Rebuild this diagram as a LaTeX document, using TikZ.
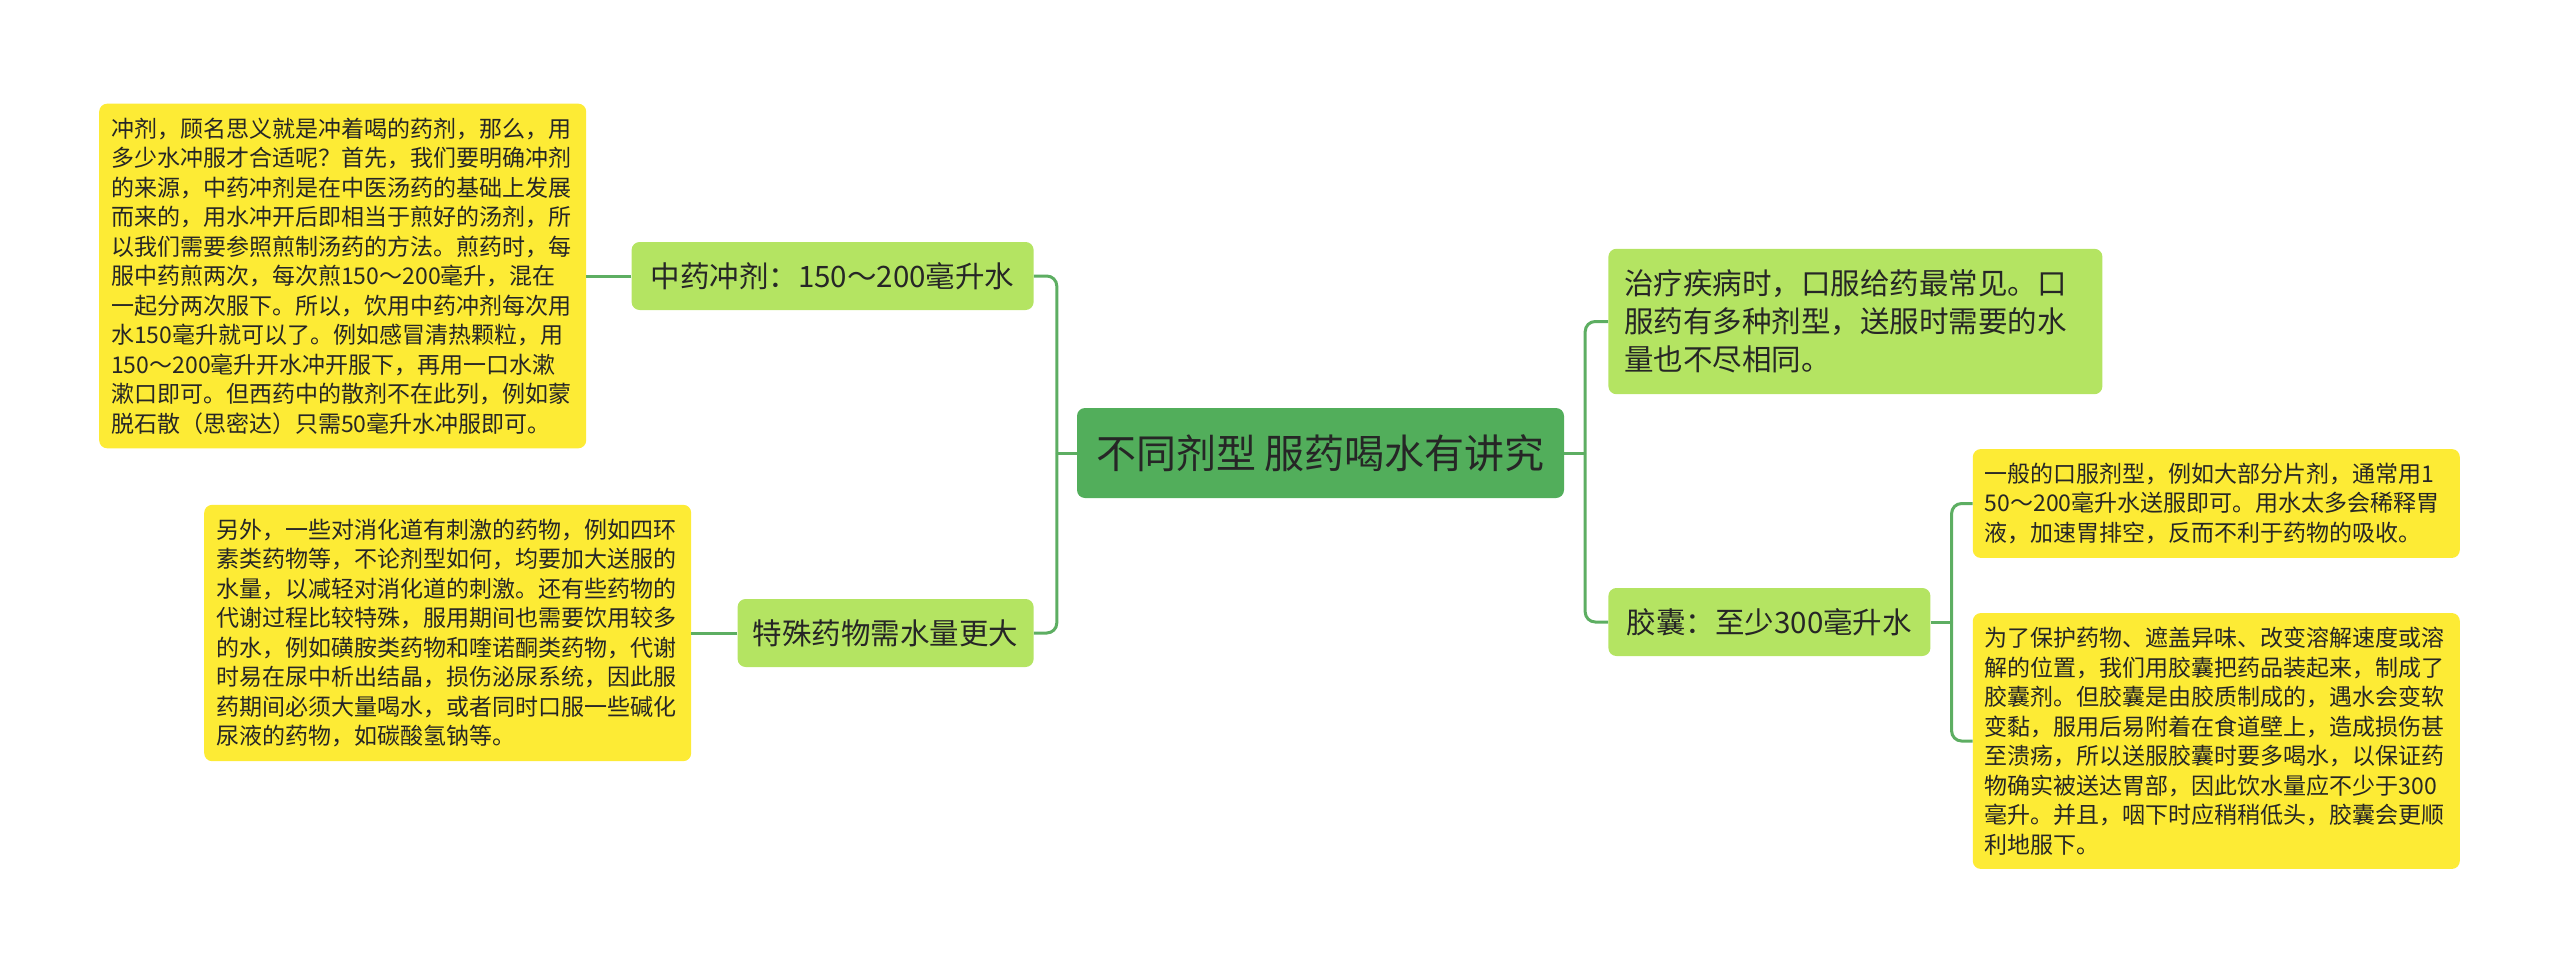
\documentclass[tikz,border=0pt]{standalone}
\usepackage{fontspec}
\setmainfont{Noto Sans CJK SC}
\usepackage{xcolor}
\usetikzlibrary{positioning}
\definecolor{rootgreen}{HTML}{52AE5B}
\definecolor{leafgreen}{HTML}{B4E462}
\definecolor{noteyellow}{HTML}{FDEB35}
\definecolor{linkgreen}{HTML}{5DAE62}

\begin{document}
\begin{tikzpicture}[
    x=1pt, y=1pt,
    root/.style={fill=rootgreen, rounded corners=8pt, minimum width=487pt, minimum height=90pt, font=\fontsize{40}{46}\selectfont, text=black!85},
    branch/.style={fill=leafgreen, rounded corners=8pt, inner xsep=15pt, minimum height=68pt, align=left, font=\fontsize{29.5}{38}\selectfont, text=black!85},
    note/.style={fill=noteyellow, rounded corners=8pt, inner xsep=12pt, inner ysep=14pt, text width=463pt, align=left, font=\fontsize{23}{29.5}\selectfont, text=black!85},
    link/.style={draw=linkgreen, line width=3pt}
  ]
    \useasboundingbox (0,0) rectangle (2560,-972);
    \node[root] (root) at (1320.5,-453) {不同剂型 服药喝水有讲究};
    \node[branch, left=43pt of root, yshift=177pt, minimum width=402pt] (tcm) {中药冲剂：150～200毫升水};
    \node[branch, left=43pt of root, yshift=-180pt, minimum width=296pt] (special) {特殊药物需水量更大};
    \node[note, left=45pt of tcm] (decoct) {冲剂，顾名思义就是冲着喝的药剂，那么，用\\多少水冲服才合适呢？首先，我们要明确冲剂\\的来源，中药冲剂是在中医汤药的基础上发展\\而来的，用水冲开后即相当于煎好的汤剂，所\\以我们需要参照煎制汤药的方法。煎药时，每\\服中药煎两次，每次煎150～200毫升，混在\\一起分两次服下。所以，饮用中药冲剂每次用\\水150毫升就可以了。例如感冒清热颗粒，用\\150～200毫升开水冲开服下，再用一口水漱\\漱口即可。但西药中的散剂不在此列，例如蒙\\脱石散（思密达）只需50毫升水冲服即可。};
    \node[note, left=46pt of special] (irritant) {另外，一些对消化道有刺激的药物，例如四环\\素类药物等，不论剂型如何，均要加大送服的\\水量，以减轻对消化道的刺激。还有些药物的\\代谢过程比较特殊，服用期间也需要饮用较多\\的水，例如磺胺类药物和喹诺酮类药物，代谢\\时易在尿中析出结晶，损伤泌尿系统，因此服\\药期间必须大量喝水，或者同时口服一些碱化\\尿液的药物，如碳酸氢钠等。};
    \node[branch, right=44pt of root, yshift=131.5pt, text width=462pt, inner xsep=16pt, inner ysep=21pt] (oral) {治疗疾病时，口服给药最常见。口\\服药有多种剂型，送服时需要的水\\量也不尽相同。};
    \node[branch, right=44pt of root, yshift=-169pt, minimum width=322pt] (capsule) {胶囊：至少300毫升水};
    \node[note, right=42pt of capsule, yshift=118.5pt] (tablet) {一般的口服剂型，例如大部分片剂，通常用1\\50～200毫升水送服即可。用水太多会稀释胃\\液，加速胃排空，反而不利于药物的吸收。};
    \node[note, right=42pt of capsule, yshift=-119pt] (shell) {为了保护药物、遮盖异味、改变溶解速度或溶\\解的位置，我们用胶囊把药品装起来，制成了\\胶囊剂。但胶囊是由胶质制成的，遇水会变软\\变黏，服用后易附着在食道壁上，造成损伤甚\\至溃疡，所以送服胶囊时要多喝水，以保证药\\物确实被送达胃部，因此饮水量应不少于300\\毫升。并且，咽下时应稍稍低头，胶囊会更顺\\利地服下。};
    \coordinate[left=20pt of root] (lj);
    \coordinate[right=21pt of root] (rj);
    \coordinate[right=21pt of capsule] (cj);
    \draw[link] (root) -- (lj);
    \draw[link, rounded corners=10pt] (lj) |- (tcm);
    \draw[link, rounded corners=10pt] (lj) |- (special);
    \draw[link] (tcm) -- (decoct);
    \draw[link] (special) -- (irritant);
    \draw[link] (root) -- (rj);
    \draw[link, rounded corners=10pt] (rj) |- (oral);
    \draw[link, rounded corners=10pt] (rj) |- (capsule);
    \draw[link] (capsule) -- (cj);
    \draw[link, rounded corners=10pt] (cj) |- (tablet);
    \draw[link, rounded corners=10pt] (cj) |- (shell);
  \end{tikzpicture}
\end{document}
